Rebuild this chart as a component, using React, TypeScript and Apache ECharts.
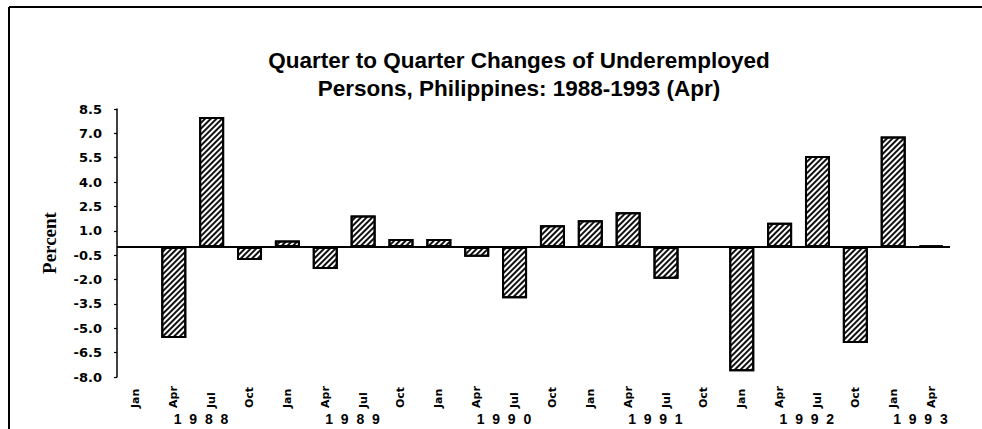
import React, { useEffect, useRef } from "react";
import * as echarts from "echarts";

// Quarter labels, Jan 1988 .. Apr 1993
const quarters = [
  "Jan", "Apr", "Jul", "Oct",
  "Jan", "Apr", "Jul", "Oct",
  "Jan", "Apr", "Jul", "Oct",
  "Jan", "Apr", "Jul", "Oct",
  "Jan", "Apr", "Jul", "Oct",
  "Jan", "Apr",
];
const years = ["1988", "1989", "1990", "1991", "1992", "1993"];
// quarter under which each year label starts
const yearAnchor = ["Apr", "Apr", "Apr", "Apr", "Apr", "Jan"];
const quarterNames = ["Jan", "Apr", "Jul", "Oct"];

// Quarter-to-quarter change of underemployed persons, percent
const changes: (number | null)[] = [
  null, -5.6, 8.0, -0.8,
  0.4, -1.35, 1.95, 0.5,
  0.5, -0.6, -3.15, 1.35,
  1.65, 2.15, -1.95, null,
  -7.65, 1.5, 5.6, -5.9,
  6.8, 0.1,
];

const yMin = -8.0;
const yMax = 8.5;
const yStep = 1.5;

const titleLines = [
  "Quarter to Quarter Changes of Underemployed",
  "Persons, Philippines: 1988-1993 (Apr)",
];
const yAxisTitle = "Percent";

function spaced(s: string) {
  return s.split("").join("  ");
}

export default function App() {
  const ref = useRef<HTMLDivElement>(null);
  useEffect(() => {
    if (!ref.current) return;
    const chart = echarts.init(ref.current, null, { renderer: "svg" });

    const yearAxisData = quarters.map(() => "");
    years.forEach((y, i) => {
      const idx = i * 4 + quarterNames.indexOf(yearAnchor[i]);
      yearAxisData[idx] = spaced(y);
    });

    const option: any = {
      animation: false,
      backgroundColor: "#ffffff",
      grid: { left: 117, right: 32, top: 109, bottom: 52, containLabel: false },
      xAxis: [
        {
          type: "category",
          data: quarters,
          position: "bottom",
          axisLine: { show: false, onZero: false },
          axisTick: { show: false },
          axisLabel: {
            interval: 0,
            rotate: 90,
            align: "left",
            margin: 31,
            fontFamily: "DejaVu Sans",
            fontWeight: "bold",
            fontSize: 11,
            color: "#000",
          },
        },
        {
          type: "category",
          data: yearAxisData,
          position: "bottom",
          axisLine: { show: false, onZero: false },
          axisTick: { show: false },
          axisLabel: {
            interval: 0,
            align: "left",
            margin: 35,
            fontFamily: "Liberation Sans",
            fontWeight: "bold",
            fontSize: 14,
            color: "#000",
          },
        },
      ],
      yAxis: {
        type: "value",
        min: yMin,
        max: yMax,
        interval: yStep,
        name: yAxisTitle,
        nameLocation: "middle",
        nameRotate: 90,
        nameGap: 58,
        nameTextStyle: {
          fontFamily: "Liberation Serif",
          fontWeight: "bold",
          fontSize: 19,
          color: "#000",
        },
        axisLine: { show: true, lineStyle: { color: "#000", width: 1.5 } },
        axisTick: { show: true, length: 3, lineStyle: { color: "#000", width: 1.2 } },
        splitLine: { show: false },
        axisLabel: {
          margin: 15,
          fontFamily: "DejaVu Sans",
          fontWeight: "bold",
          fontSize: 13,
          color: "#000",
          formatter: (v: number) => v.toFixed(1),
        },
      },
      series: [
        {
          type: "bar",
          xAxisIndex: 0,
          data: changes,
          barWidth: 25,
          itemStyle: {
            color: "#ffffff",
            borderColor: "#000",
            borderWidth: 2,
            decal: {
              symbol: "rect",
              symbolSize: 1,
              color: "#111",
              dashArrayX: [5, 0],
              dashArrayY: [1.7, 1.4],
              rotation: -Math.PI / 4,
            },
          },
          markLine: {
            silent: true,
            symbol: "none",
            label: { show: false },
            lineStyle: { color: "#000", width: 2, type: "solid" },
            data: [{ yAxis: 0 }],
          },
        },
      ],
      graphic: [
        {
          type: "line",
          shape: { x1: 9, y1: 7, x2: 982, y2: 7 },
          style: { stroke: "#000", lineWidth: 2 },
        },
        {
          type: "line",
          shape: { x1: 9, y1: 7, x2: 9, y2: 429 },
          style: { stroke: "#000", lineWidth: 2 },
        },
        {
          type: "text",
          x: 519,
          y: 60,
          style: {
            text: titleLines[0],
            align: "center",
            verticalAlign: "middle",
            fontFamily: "Liberation Sans",
            fontWeight: "bold",
            fontSize: 22.5,
            fill: "#000",
          },
        },
        {
          type: "text",
          x: 519,
          y: 88,
          style: {
            text: titleLines[1],
            align: "center",
            verticalAlign: "middle",
            fontFamily: "Liberation Sans",
            fontWeight: "bold",
            fontSize: 22.5,
            fill: "#000",
          },
        },
      ],
    };
    chart.setOption(option);
    return () => chart.dispose();
  }, []);

  return (
    <div
      ref={ref}
      style={{ position: "fixed", left: 0, top: 0, width: 982, height: 429 }}
    />
  );
}
